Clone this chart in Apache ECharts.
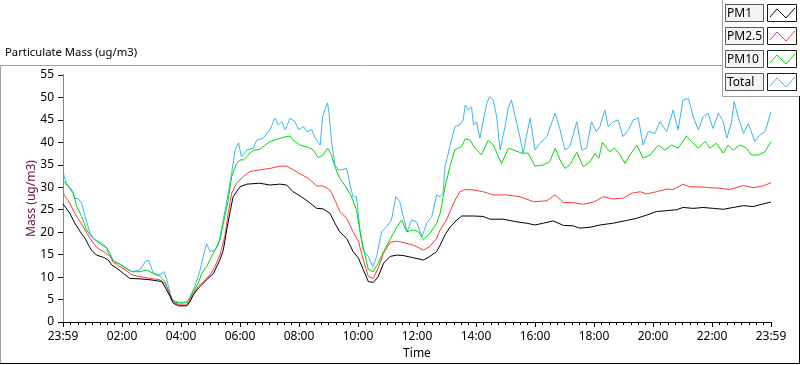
<!DOCTYPE html>
<html>
<head>
<meta charset="utf-8">
<script src="https://cdn.jsdelivr.net/npm/echarts@6/dist/echarts.min.js"></script>
<style>
html,body{margin:0;padding:0;background:#fff;}
#chart{width:800px;height:365px;}
</style>
</head>
<body>
<div id="chart"></div>
<script>
// ---- Data (time in minutes after the 23:59 start, values in ug/m3) ----
var xTickLabels = ['23:59','02:00','04:00','06:00','08:00','10:00','12:00','14:00','16:00','18:00','20:00','22:00','23:59'];
var legendNames = ['PM1','PM2.5','PM10','Total'];

var pm1T = [0,14,24,35,45,52,58,68,82,92,99,109,123,136,157,177,190,201,211,218,224,235,252,258,265,272,279,292,306,319,326,333,340,346,360,374,400,421,441,455,468,482,499,516,529,543,553,563,577,590,601,611,621,631,641,652,665,679,692,713,733,746,760,767,777,787,801,811,835,855,868,895,923,943,960,977,997,1018,1038,1051,1072,1092,1119,1146,1167,1187,1207,1228,1248,1261,1282,1302,1323,1343,1363,1384,1404,1424,1440];
var pm1V = [26.3,24.2,22.0,20.1,18.6,17.1,16.0,14.9,14.4,13.8,12.7,12.0,10.8,9.7,9.6,9.4,9.2,9.0,7.1,5.6,4.2,3.6,3.6,4.5,6.0,7.1,7.9,9.4,10.8,13.8,16.0,20.5,24.6,27.9,30.1,30.7,30.9,30.5,30.7,30.5,29.0,28.1,26.8,25.3,25.2,24.2,22.0,20.1,18.6,15.7,14.2,11.6,9.0,8.8,10.1,13.1,14.6,14.9,14.8,14.3,13.8,14.6,15.7,17.1,19.4,21.1,22.7,23.6,23.6,23.5,22.9,22.9,22.3,22.0,21.6,22.0,22.5,21.5,21.4,20.9,21.1,21.6,22.0,22.6,23.1,23.8,24.6,24.8,25.0,25.5,25.3,25.5,25.3,25.1,25.5,25.9,25.7,26.3,26.7];

var pm25T = [0,14,24,35,45,55,62,72,85,96,102,113,126,140,157,177,197,207,214,221,228,238,252,258,265,275,285,299,309,319,329,336,343,353,367,380,401,421,441,455,468,482,499,516,529,543,553,563,577,590,601,611,621,631,641,652,665,679,692,713,733,746,760,767,780,794,807,818,835,855,875,902,929,957,984,1001,1018,1038,1058,1079,1099,1119,1140,1157,1174,1187,1207,1228,1241,1261,1275,1295,1316,1336,1356,1384,1404,1424,1440];
var pm25V = [28.7,26.4,24.2,22.3,20.5,18.6,17.5,16.3,15.5,14.6,13.4,12.5,11.7,10.5,10.1,9.7,9.4,8.6,7.1,5.3,4.2,3.8,3.8,4.9,6.4,7.9,9.0,10.5,12.3,14.9,19.0,24.2,28.7,30.9,32.4,33.5,33.9,34.2,34.7,34.7,33.9,33.0,32.0,30.3,30.3,29.4,27.2,24.6,23.1,20.1,17.9,13.8,10.1,9.7,12.0,15.3,17.7,18.0,17.7,17.1,16.0,16.8,18.6,20.5,22.7,26.4,29.0,29.5,29.4,29.0,28.3,28.3,27.9,26.8,27.0,28.3,26.6,26.6,26.2,26.7,27.9,27.4,27.6,28.7,29.0,28.5,29.0,29.6,29.5,30.7,30.1,30.1,29.9,29.8,29.5,30.4,29.9,30.3,31.0];

var pm10T = [0,11,21,28,38,48,55,65,75,89,96,102,116,129,140,157,170,184,197,207,214,221,228,238,252,258,265,275,282,292,302,309,319,329,336,343,353,360,367,374,380,387,401,421,431,441,455,462,468,482,499,509,519,529,538,546,553,563,577,587,597,607,621,631,641,652,665,679,689,699,713,723,733,746,760,767,777,787,797,811,818,828,838,851,865,875,892,906,916,933,946,960,977,990,1001,1011,1021,1031,1045,1058,1072,1082,1090,1097,1112,1122,1133,1143,1153,1167,1180,1194,1211,1224,1238,1251,1268,1278,1292,1306,1316,1329,1343,1353,1363,1377,1390,1400,1414,1428,1440];
var pm10V = [31.5,30.1,28.7,25.7,23.5,20.5,19.4,18.3,17.5,16.4,15.3,13.4,12.9,12.0,11.2,11.2,11.6,10.8,10.2,9.0,7.1,5.0,4.4,4.2,4.3,5.3,6.8,8.6,10.8,12.3,14.6,16.0,18.3,23.5,27.2,32.4,35.3,36.1,36.1,36.8,37.6,38.2,38.5,40.2,40.5,40.9,41.3,41.4,40.5,39.4,38.9,38.3,36.6,37.2,38.7,37.2,34.6,32.0,29.8,27.9,24.9,18.3,11.7,11.2,13.1,15.7,18.3,21.2,22.7,20.1,20.5,20.1,18.3,19.7,22.0,24.2,30.1,34.6,38.3,39.1,40.8,40.5,38.7,37.2,40.5,39.4,35.3,38.7,38.3,37.6,37.6,34.7,35.0,35.7,38.7,36.1,34.2,35.0,37.8,34.6,35.7,37.5,36.5,40.0,37.9,38.7,37.2,35.3,37.2,39.4,36.5,37.2,39.4,38.3,39.4,38.7,41.4,40.2,38.7,40.2,38.7,39.8,37.6,39.4,38.3,39.4,38.7,37.2,37.2,37.9,40.2];

var totalT = [0,7,18,24,31,38,45,55,65,79,89,92,102,113,126,140,157,167,174,184,197,205,211,218,224,238,252,258,268,279,285,292,299,309,316,326,336,343,350,357,363,374,387,394,407,421,431,438,445,452,462,472,479,489,496,506,513,523,528,538,541,546,553,560,567,577,584,590,597,604,611,621,630,638,648,658,668,677,685,692,700,709,719,730,740,750,760,767,773,777,787,797,807,814,818,824,831,835,841,848,855,862,868,875,882,889,899,906,912,919,929,936,943,950,960,970,984,1001,1011,1021,1031,1045,1055,1065,1075,1085,1092,1102,1109,1119,1129,1139,1150,1160,1170,1180,1190,1204,1214,1228,1241,1251,1261,1272,1282,1292,1302,1312,1322,1333,1343,1350,1360,1365,1373,1384,1394,1407,1417,1428,1440];
var totalV = [33.3,30.9,29.4,27.5,27.5,26.4,23.5,19.7,18.3,17.5,16.6,15.3,13.8,13.1,12.0,11.2,11.6,13.4,13.8,10.8,10.5,11.2,9.4,6.4,4.8,4.3,4.5,5.5,7.9,11.6,14.6,17.4,15.7,16.0,17.1,22.7,28.7,33.1,38.3,39.9,36.8,38.3,38.7,40.5,40.9,42.8,45.4,43.9,44.6,42.8,45.4,44.6,42.8,43.5,42.4,42.8,40.9,39.4,45.7,48.8,46.5,40.5,35.0,33.9,33.9,34.2,30.5,27.9,27.9,20.5,15.7,14.6,12.3,14.6,20.1,21.2,22.7,27.9,26.8,23.5,20.1,22.7,22.3,19.0,22.0,23.5,28.3,27.9,28.7,34.6,39.1,43.5,43.9,45.0,48.3,47.2,47.9,43.9,44.6,40.9,45.0,48.7,50.2,49.4,45.7,38.3,43.5,47.9,49.4,46.1,41.3,37.6,41.6,45.4,38.3,39.8,41.3,46.5,42.8,38.3,39.1,44.6,38.3,38.7,44.6,42.4,43.5,47.2,43.5,44.6,45.0,41.3,42.8,45.0,45.4,39.4,42.4,42.0,44.6,42.4,47.2,42.8,49.4,49.8,45.7,42.8,45.7,46.5,43.1,46.5,44.6,40.9,44.6,49.1,45.7,42.0,44.2,40.2,41.6,42.4,46.8];

var seriesColors = ['#000000','#ff3a3a','#00dc00','#3db6f2'];

function pairs(t, v){ return t.map(function(x,i){ return [x, v[i]]; }); }

var chart = echarts.init(document.getElementById('chart'), null, {renderer:'canvas'});
var FONT = 'Noto Sans';

function lineSeries(name, t, v, color){
  return {name:name, type:'line', data:pairs(t,v), showSymbol:false, symbol:'none',
    lineStyle:{color:color, width:1}, itemStyle:{color:color}, xAxisIndex:0, yAxisIndex:0,
    animation:false, silent:true};
}

// legend graphics
var legendChildren = [
  {type:'rect', shape:{x:722.5,y:-1,width:80,height:97.5}, style:{fill:'#ffffff', stroke:'#a0a0a0', lineWidth:1}}
];
legendNames.forEach(function(n,i){
  var y0 = 4 + 23*i;
  legendChildren.push({type:'rect', shape:{x:725.5,y:y0+0.5,width:38,height:17}, style:{fill:'#f4f4f4', stroke:'#5a5a5a', lineWidth:1}});
  legendChildren.push({type:'text', x:727, y:y0+9.5, style:{text:n, fill:'#000', font:'12px "'+FONT+'"', textVerticalAlign:'middle', textAlign:'left'}});
  legendChildren.push({type:'rect', shape:{x:767.5,y:y0+0.5,width:29,height:17}, style:{fill:'#ffffff', stroke:'#1a1a1a', lineWidth:1}});
  legendChildren.push({type:'polyline', shape:{points:[[770,y0+13],[777,y0+5],[786,y0+14],[795,y0+4]]}, style:{stroke:seriesColors[i], lineWidth:1, fill:null}});
});

var option = {
  animation:false,
  backgroundColor:'#ffffff',
  textStyle:{fontFamily:FONT},
  grid:{left:63, right:29, top:75, bottom:43, containLabel:false},
  title:{text:'Particulate Mass (ug/m3)', left:5, top:47, padding:0, textStyle:{fontFamily:FONT, fontSize:11.3, fontWeight:'normal', color:'#000'}},
  xAxis:[{
    type:'value', min:0, max:1440, interval:120, position:'bottom',
    name:'Time', nameLocation:'middle', nameGap:26, nameMoveOverlap:false,
    nameTextStyle:{color:'#000', fontSize:12, fontFamily:FONT},
    axisLine:{show:true, lineStyle:{color:'#888888', width:1}},
    axisTick:{show:true, length:5, lineStyle:{color:'#000'}},
    minorTick:{show:true, splitNumber:8, length:3, lineStyle:{color:'#000'}},
    axisLabel:{margin:9, color:'#000', fontSize:12, fontFamily:FONT,
      formatter:function(v){ return xTickLabels[Math.round(v/120)]; }},
    splitLine:{show:false}
  },{
    type:'value', min:0, max:1440, position:'top',
    axisLine:{show:true, lineStyle:{color:'#000', width:1}},
    axisTick:{show:false}, axisLabel:{show:false}, splitLine:{show:false}
  }],
  yAxis:[{
    type:'value', min:0, max:55, interval:5, position:'left',
    name:'Mass (ug/m3)', nameLocation:'middle', nameGap:25, nameMoveOverlap:false,
    nameTextStyle:{color:'#6e1226', fontSize:12, fontFamily:FONT},
    axisLine:{show:true, lineStyle:{color:'#000', width:1}},
    axisTick:{show:true, length:5, lineStyle:{color:'#000'}},
    axisLabel:{margin:9, color:'#000', fontSize:12, fontFamily:FONT},
    splitLine:{show:false}
  },{
    type:'value', min:0, max:55, position:'right',
    axisLine:{show:true, lineStyle:{color:'#888888', width:1}},
    axisTick:{show:false}, axisLabel:{show:false}, splitLine:{show:false}
  }],
  series:[
    lineSeries('Total', totalT, totalV, seriesColors[3]),
    lineSeries('PM10', pm10T, pm10V, seriesColors[2]),
    lineSeries('PM2.5', pm25T, pm25V, seriesColors[1]),
    lineSeries('PM1', pm1T, pm1V, seriesColors[0])
  ],
  graphic:[
    {type:'line', z:100, shape:{x1:0.5,y1:65.5,x2:722,y2:65.5}, style:{stroke:'#a0a0a0', lineWidth:1}},
    {type:'line', z:100, shape:{x1:0.5,y1:65.5,x2:0.5,y2:363.5}, style:{stroke:'#a0a0a0', lineWidth:1}},
    {type:'line', z:100, shape:{x1:0,y1:363.5,x2:800,y2:363.5}, style:{stroke:'#000', lineWidth:1}},
    {type:'line', z:100, shape:{x1:799.5,y1:96,x2:799.5,y2:364}, style:{stroke:'#000', lineWidth:1}},
    {type:'group', z:100, children:legendChildren}
  ]
};
chart.setOption(option);
</script>
</body>
</html>
